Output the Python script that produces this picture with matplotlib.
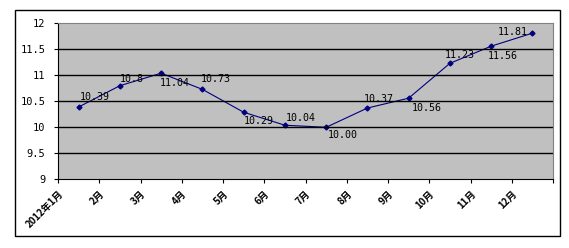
import matplotlib
matplotlib.use("Agg")
import matplotlib.pyplot as plt
import matplotlib.transforms as mtransforms
from matplotlib.patches import Rectangle
import numpy as np

months = ["2012年1月", "2月", "3月", "4月", "5月", "6月", "7月", "8月", "9月", "10月", "11月", "12月"]
values = [10.39, 10.8, 11.04, 10.73, 10.29, 10.04, 10.00, 10.37, 10.56, 11.23, 11.56, 11.81]
labels = ["10.39", "10.8", "11.04", "10.73", "10.29", "10.04", "10.00", "10.37", "10.56", "11.23", "11.56", "11.81"]
# label offsets in pixels (dx to text left edge, dy to text centre, up positive)
offsets = [(1, 10), (0, 7), (-1, -10), (-2, 10), (0, -9), (1, 7), (2, -8), (-4, 9),
           (3, -10), (-5, 8), (-3, -10), (-35, 1)]

mono = "DejaVu Sans Mono"
cjk = ["Noto Sans CJK SC", "DejaVu Sans"]

fig = plt.figure(figsize=(5.69, 2.48), dpi=100)
fig.patches.append(Rectangle((15 / 569, 1 - 236 / 248), 545 / 569, 226 / 248,
                             transform=fig.transFigure, fill=False,
                             edgecolor="black", linewidth=1))
ax = fig.add_axes([58 / 569, 1 - 179.3 / 248, 495 / 569, 156 / 248])
ax.set_facecolor("#c0c0c0")

x = np.arange(len(values))
ax.plot(x, values, color="#000080", linewidth=0.8, marker="D", markersize=2.5)

px = 72 / 100
for xi, yi, lab, (dx, dy) in zip(x, values, labels, offsets):
    ax.annotate(lab, (xi, yi), xytext=(dx * px, dy * px), textcoords="offset points",
                ha="left", va="center", fontsize=7.2, family=mono, color="black")

ax.set_xlim(-0.5, len(values) - 0.5)
ax.set_ylim(9, 12)
ax.set_yticks(np.arange(9, 12.01, 0.5))
ax.set_yticklabels(["9", "9.5", "10", "10.5", "11", "11.5", "12"], family=mono, fontsize=7.5)
for yv in np.arange(9.5, 11.51, 0.5):
    ax.axhline(yv, color="black", linewidth=1)

ax.set_xticks(np.arange(len(values) + 1) - 0.5)
ax.set_xticklabels(months + [""], rotation=45, ha="right", va="top",
                   rotation_mode="anchor", fontsize=7, family=cjk, fontweight="bold")
shift = mtransforms.ScaledTranslation(15 / 100, -4 / 100, fig.dpi_scale_trans)
for t in ax.get_xticklabels():
    t.set_transform(t.get_transform() + shift)

ax.tick_params(axis="both", direction="out", length=3, width=0.8, color="black")
ax.tick_params(axis="y", pad=6)
ax.spines["left"].set_color("black")
ax.spines["bottom"].set_color("black")
ax.spines["top"].set_color("#808080")
ax.spines["right"].set_color("#808080")

fig.savefig("out.png", dpi=100)
